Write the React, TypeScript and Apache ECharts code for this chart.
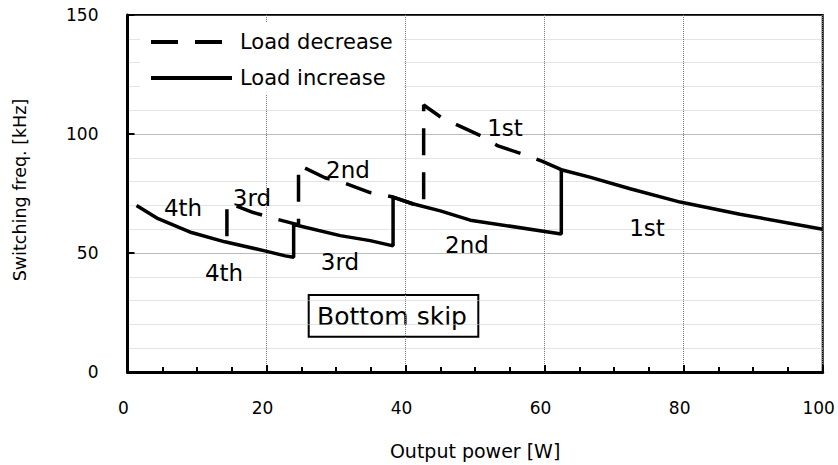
import React, { useEffect, useRef } from "react";
import * as echarts from "echarts";

// Output power [W] / Switching freq. [kHz]
const increasePower = [1.3, 4.4, 9.2, 14.0, 19.9, 22.7, 23.9, 23.9, 30.6, 34.9, 38.2, 38.2, 41.0, 45.0, 49.3, 62.4, 62.4, 66.5, 72.3, 79.5, 88.1, 100];
const increaseFreq = [70.0, 64.4, 58.6, 54.7, 50.8, 48.8, 48.2, 62.0, 57.3, 55.2, 53.0, 73.5, 70.7, 67.7, 63.8, 58.0, 85.0, 81.9, 77.0, 71.4, 66.3, 60.0];
const decreasePower = [62.4, 59.6, 57.2, 53.3, 51.2, 47.8, 45.2, 42.6, 42.6, 41.0, 38.2, 34.9, 31.0, 28.4, 24.6, 24.6, 21.0, 18.1, 14.3, 14.3];
const decreaseFreq = [85.0, 88.6, 91.2, 95.0, 98.7, 103.3, 106.8, 112.2, 69.7, 70.7, 73.5, 75.4, 79.6, 81.6, 87.0, 61.8, 64.6, 67.0, 71.2, 54.5];

const seriesNames = ["Load decrease", "Load increase"];
const xRange = [0, 100];
const yRange = [0, 150];

const FONT = "DejaVu Sans";

function label(text: string, x: number, y: number, size = 23) {
  return {
    type: "text",
    x,
    y,
    z: 10,
    style: {
      text,
      fill: "#000",
      font: `${size}px "${FONT}"`,
      textAlign: "center",
      textVerticalAlign: "middle",
    },
  };
}

export default function App() {
  const ref = useRef<HTMLDivElement>(null);
  useEffect(() => {
    if (!ref.current) return;
    const chart = echarts.init(ref.current, null, { renderer: "svg" });
    const inc = increasePower.map((p, i) => [p, increaseFreq[i]]);
    const dec = decreasePower.map((p, i) => [p, decreaseFreq[i]]);
    chart.setOption({
      animation: false,
      textStyle: { fontFamily: FONT, color: "#000" },
      grid: {
        left: 127.5,
        right: 15.3,
        top: 15,
        bottom: 91.7,
        show: true,
        borderColor: "#000",
        borderWidth: 2,
      },
      legend: {
        data: seriesNames,
        orient: "vertical",
        left: 140,
        top: 23,
        padding: [8.5, 10, 6.5, 9],
        itemGap: 15,
        itemWidth: 81,
        itemHeight: 14,
        backgroundColor: "#fff",
        itemStyle: { color: "rgba(0,0,0,0)", borderColor: "rgba(0,0,0,0)", borderWidth: 0 },
        lineStyle: { width: 4, color: "#000" },
        textStyle: { fontSize: 21, color: "#000", fontFamily: FONT, padding: [0, 0, 0, 3] },
        z: 5,
      },
      xAxis: {
        type: "value",
        min: xRange[0],
        max: xRange[1],
        interval: 20,
        name: "Output power [W]",
        nameLocation: "middle",
        nameGap: 69,
        nameTextStyle: { fontSize: 19, color: "#000", fontFamily: FONT },
        axisLine: { onZero: false, lineStyle: { color: "#000", width: 3 } },
        axisTick: { inside: true, length: 7, lineStyle: { color: "#000", width: 2 } },
        minorTick: { show: true, splitNumber: 4, length: 5, lineStyle: { color: "#000", width: 2 } },
        axisLabel: { margin: 27, fontSize: 17, color: "#000", fontFamily: FONT, padding: [0, 8, 0, 0] },
        splitLine: { show: true, lineStyle: { color: "#777", type: "dotted", width: 1 } },
      },
      yAxis: {
        type: "value",
        min: yRange[0],
        max: yRange[1],
        interval: 50,
        name: "Switching freq. [kHz]",
        nameLocation: "middle",
        nameGap: 99,
        nameTextStyle: { fontSize: 17.5, color: "#000", fontFamily: FONT, padding: [0, 0, 0, 7] },
        axisLine: { lineStyle: { color: "#000", width: 3 } },
        axisTick: { inside: true, length: 7, lineStyle: { color: "#000", width: 2 } },
        minorTick: { show: false, splitNumber: 5 },
        minorSplitLine: { show: true, lineStyle: { color: "#c8c8c8", type: "dotted", width: 1 } },
        axisLabel: { margin: 29, fontSize: 17, color: "#000", fontFamily: FONT },
        splitLine: { show: true, lineStyle: { color: "#777", type: "dotted", width: 1 } },
      },
      series: [
        {
          type: "line",
          name: seriesNames[0],
          data: dec,
          symbol: "none",
          itemStyle: { color: "#000" },
          lineStyle: { color: "#000", width: 3.5, type: [27, 17] },
          z: 2,
        },
        {
          type: "line",
          name: seriesNames[1],
          data: inc,
          symbol: "none",
          itemStyle: { color: "#000" },
          lineStyle: { color: "#000", width: 3.5 },
          z: 3,
        },
      ],
      graphic: [
        label("4th", 183, 208),
        label("3rd", 252, 198),
        label("2nd", 348, 170),
        label("1st", 505, 127.5),
        label("4th", 224, 273),
        label("3rd", 340, 262),
        label("2nd", 467, 245),
        label("1st", 647, 228),
        {
          type: "group",
          z: 10,
          children: [
            {
              type: "rect",
              shape: { x: 308.7, y: 295, width: 169.6, height: 41.7 },
              style: { fill: "#fff", stroke: "#000", lineWidth: 2 },
            },
            {
              type: "text",
              x: 392,
              y: 316.5,
              style: {
                text: "Bottom skip",
                fill: "#000",
                font: `25px "${FONT}"`,
                textAlign: "center",
                textVerticalAlign: "middle",
              },
            },
          ],
        },
      ],
    });
    return () => chart.dispose();
  }, []);
  return (
    <div
      ref={ref}
      style={{ position: "fixed", left: 0, top: 0, width: 838, height: 465, background: "#fff" }}
    />
  );
}
